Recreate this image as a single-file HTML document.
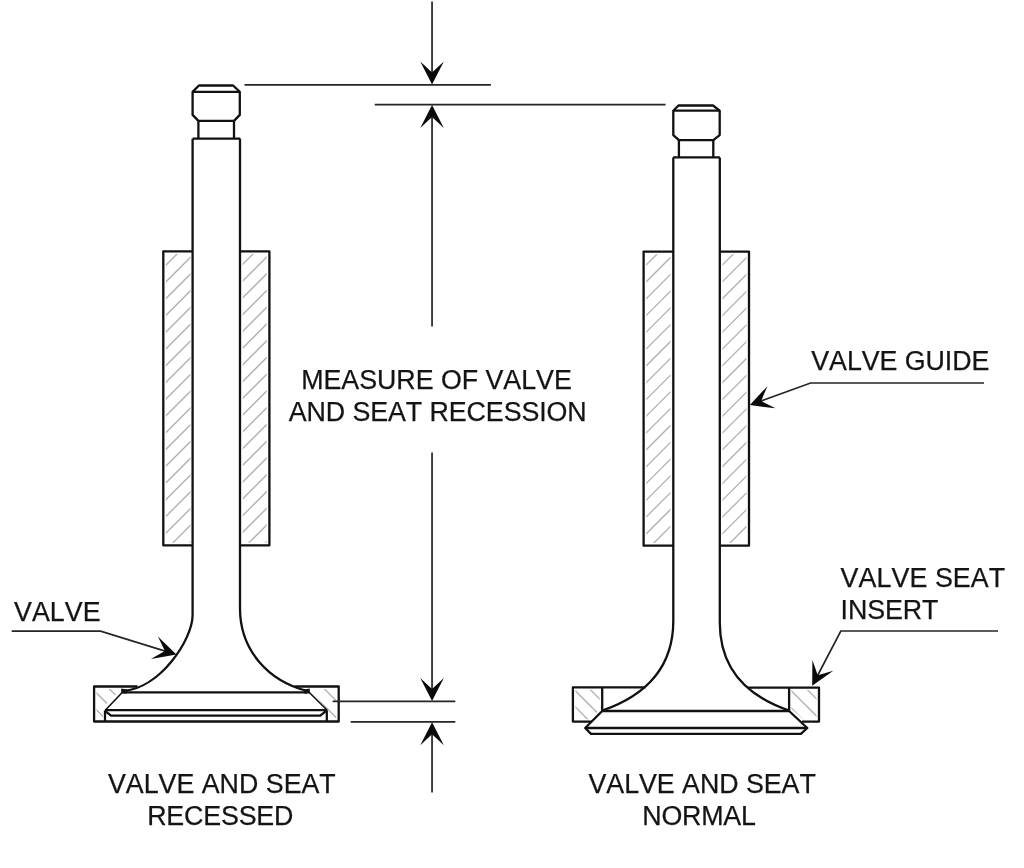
<!DOCTYPE html>
<html><head><meta charset="utf-8"><style>html,body{margin:0;padding:0;background:#fff;overflow:hidden}svg{display:block}</style></head><body>
<svg width="1024" height="868" viewBox="0 0 1024 868">
<rect width="1024" height="868" fill="#fff"/>
<defs></defs>
<clipPath id="h1"><rect x="165.90" y="254.00" width="24.50" height="288.70"/></clipPath>
<g clip-path="url(#h1)" stroke="#b0b0b0" stroke-width="1.30"><line x1="-133.45" y1="547.70" x2="165.25" y2="249.00"/><line x1="-116.70" y1="547.70" x2="182.00" y2="249.00"/><line x1="-99.95" y1="547.70" x2="198.75" y2="249.00"/><line x1="-83.20" y1="547.70" x2="215.50" y2="249.00"/><line x1="-66.45" y1="547.70" x2="232.25" y2="249.00"/><line x1="-49.70" y1="547.70" x2="249.00" y2="249.00"/><line x1="-32.95" y1="547.70" x2="265.75" y2="249.00"/><line x1="-16.20" y1="547.70" x2="282.50" y2="249.00"/><line x1="0.55" y1="547.70" x2="299.25" y2="249.00"/><line x1="17.30" y1="547.70" x2="316.00" y2="249.00"/><line x1="34.05" y1="547.70" x2="332.75" y2="249.00"/><line x1="50.80" y1="547.70" x2="349.50" y2="249.00"/><line x1="67.55" y1="547.70" x2="366.25" y2="249.00"/><line x1="84.30" y1="547.70" x2="383.00" y2="249.00"/><line x1="101.05" y1="547.70" x2="399.75" y2="249.00"/><line x1="117.80" y1="547.70" x2="416.50" y2="249.00"/><line x1="134.55" y1="547.70" x2="433.25" y2="249.00"/><line x1="151.30" y1="547.70" x2="450.00" y2="249.00"/><line x1="168.05" y1="547.70" x2="466.75" y2="249.00"/><line x1="184.80" y1="547.70" x2="483.50" y2="249.00"/></g>
<clipPath id="h2"><rect x="242.80" y="254.00" width="23.90" height="288.70"/></clipPath>
<g clip-path="url(#h2)" stroke="#b0b0b0" stroke-width="1.30"><line x1="-57.45" y1="547.70" x2="241.25" y2="249.00"/><line x1="-40.70" y1="547.70" x2="258.00" y2="249.00"/><line x1="-23.95" y1="547.70" x2="274.75" y2="249.00"/><line x1="-7.20" y1="547.70" x2="291.50" y2="249.00"/><line x1="9.55" y1="547.70" x2="308.25" y2="249.00"/><line x1="26.30" y1="547.70" x2="325.00" y2="249.00"/><line x1="43.05" y1="547.70" x2="341.75" y2="249.00"/><line x1="59.80" y1="547.70" x2="358.50" y2="249.00"/><line x1="76.55" y1="547.70" x2="375.25" y2="249.00"/><line x1="93.30" y1="547.70" x2="392.00" y2="249.00"/><line x1="110.05" y1="547.70" x2="408.75" y2="249.00"/><line x1="126.80" y1="547.70" x2="425.50" y2="249.00"/><line x1="143.55" y1="547.70" x2="442.25" y2="249.00"/><line x1="160.30" y1="547.70" x2="459.00" y2="249.00"/><line x1="177.05" y1="547.70" x2="475.75" y2="249.00"/><line x1="193.80" y1="547.70" x2="492.50" y2="249.00"/><line x1="210.55" y1="547.70" x2="509.25" y2="249.00"/><line x1="227.30" y1="547.70" x2="526.00" y2="249.00"/><line x1="244.05" y1="547.70" x2="542.75" y2="249.00"/><line x1="260.80" y1="547.70" x2="559.50" y2="249.00"/></g>
<clipPath id="h3"><rect x="646.20" y="254.20" width="24.30" height="288.90"/></clipPath>
<g clip-path="url(#h3)" stroke="#b0b0b0" stroke-width="1.30"><line x1="346.30" y1="548.10" x2="645.20" y2="249.20"/><line x1="363.10" y1="548.10" x2="662.00" y2="249.20"/><line x1="379.90" y1="548.10" x2="678.80" y2="249.20"/><line x1="396.70" y1="548.10" x2="695.60" y2="249.20"/><line x1="413.50" y1="548.10" x2="712.40" y2="249.20"/><line x1="430.30" y1="548.10" x2="729.20" y2="249.20"/><line x1="447.10" y1="548.10" x2="746.00" y2="249.20"/><line x1="463.90" y1="548.10" x2="762.80" y2="249.20"/><line x1="480.70" y1="548.10" x2="779.60" y2="249.20"/><line x1="497.50" y1="548.10" x2="796.40" y2="249.20"/><line x1="514.30" y1="548.10" x2="813.20" y2="249.20"/><line x1="531.10" y1="548.10" x2="830.00" y2="249.20"/><line x1="547.90" y1="548.10" x2="846.80" y2="249.20"/><line x1="564.70" y1="548.10" x2="863.60" y2="249.20"/><line x1="581.50" y1="548.10" x2="880.40" y2="249.20"/><line x1="598.30" y1="548.10" x2="897.20" y2="249.20"/><line x1="615.10" y1="548.10" x2="914.00" y2="249.20"/><line x1="631.90" y1="548.10" x2="930.80" y2="249.20"/><line x1="648.70" y1="548.10" x2="947.60" y2="249.20"/><line x1="665.50" y1="548.10" x2="964.40" y2="249.20"/></g>
<clipPath id="h4"><rect x="722.40" y="254.20" width="24.00" height="288.90"/></clipPath>
<g clip-path="url(#h4)" stroke="#b0b0b0" stroke-width="1.30"><line x1="422.50" y1="548.10" x2="721.40" y2="249.20"/><line x1="439.30" y1="548.10" x2="738.20" y2="249.20"/><line x1="456.10" y1="548.10" x2="755.00" y2="249.20"/><line x1="472.90" y1="548.10" x2="771.80" y2="249.20"/><line x1="489.70" y1="548.10" x2="788.60" y2="249.20"/><line x1="506.50" y1="548.10" x2="805.40" y2="249.20"/><line x1="523.30" y1="548.10" x2="822.20" y2="249.20"/><line x1="540.10" y1="548.10" x2="839.00" y2="249.20"/><line x1="556.90" y1="548.10" x2="855.80" y2="249.20"/><line x1="573.70" y1="548.10" x2="872.60" y2="249.20"/><line x1="590.50" y1="548.10" x2="889.40" y2="249.20"/><line x1="607.30" y1="548.10" x2="906.20" y2="249.20"/><line x1="624.10" y1="548.10" x2="923.00" y2="249.20"/><line x1="640.90" y1="548.10" x2="939.80" y2="249.20"/><line x1="657.70" y1="548.10" x2="956.60" y2="249.20"/><line x1="674.50" y1="548.10" x2="973.40" y2="249.20"/><line x1="691.30" y1="548.10" x2="990.20" y2="249.20"/><line x1="708.10" y1="548.10" x2="1007.00" y2="249.20"/><line x1="724.90" y1="548.10" x2="1023.80" y2="249.20"/></g>
<clipPath id="s1"><path d="M96.5 689 L121 689 L103 708 L103 719 L96.5 719 Z"/></clipPath>
<g clip-path="url(#s1)" stroke="#b0b0b0" stroke-width="1.30"><line x1="89.00" y1="634.50" x2="129.00" y2="674.50"/><line x1="89.00" y1="651.50" x2="129.00" y2="691.50"/><line x1="89.00" y1="668.50" x2="129.00" y2="708.50"/><line x1="89.00" y1="685.50" x2="129.00" y2="725.50"/><line x1="89.00" y1="702.50" x2="129.00" y2="742.50"/></g>
<clipPath id="s2"><path d="M336.3 689 L310 689 L325 707 L325 719 L336.3 719 Z"/></clipPath>
<g clip-path="url(#s2)" stroke="#b0b0b0" stroke-width="1.30"><line x1="302.00" y1="632.50" x2="344.00" y2="674.50"/><line x1="302.00" y1="649.50" x2="344.00" y2="691.50"/><line x1="302.00" y1="666.50" x2="344.00" y2="708.50"/><line x1="302.00" y1="683.50" x2="344.00" y2="725.50"/><line x1="302.00" y1="700.50" x2="344.00" y2="742.50"/></g>
<clipPath id="s3"><path d="M575.5 689.7 L599.8 689.7 L599.8 710 L589.5 719.3 L575.5 719.3 Z"/></clipPath>
<g clip-path="url(#s3)" stroke="#b0b0b0" stroke-width="1.30"><line x1="567.00" y1="650.10" x2="608.00" y2="691.10"/><line x1="567.00" y1="666.30" x2="608.00" y2="707.30"/><line x1="567.00" y1="682.50" x2="608.00" y2="723.50"/><line x1="567.00" y1="698.70" x2="608.00" y2="739.70"/><line x1="567.00" y1="714.90" x2="608.00" y2="755.90"/></g>
<clipPath id="s4"><path d="M791.5 690 L816.5 690 L816.5 719.3 L803.5 719.3 L791.5 709 Z"/></clipPath>
<g clip-path="url(#s4)" stroke="#b0b0b0" stroke-width="1.30"><line x1="784.00" y1="649.10" x2="824.00" y2="689.10"/><line x1="784.00" y1="666.30" x2="824.00" y2="706.30"/><line x1="784.00" y1="683.50" x2="824.00" y2="723.50"/><line x1="784.00" y1="700.70" x2="824.00" y2="740.70"/></g>
<g fill="none" stroke="#111111" stroke-width="2.3" stroke-linejoin="round" stroke-linecap="butt">
<path d="M198.90 85.50 L233.10 85.50 L239.80 91.90 L239.80 114.90 L234.00 120.90 L198.40 120.90 L192.60 114.90 L192.60 91.90 Z"/>
<path d="M192.60 91.90 L239.80 91.90"/>
<path d="M198.40 120.90 L198.40 138.70 M234.00 120.90 L234.00 138.70 M192.60 138.70 L240.30 138.70"/>
<path d="M192.6 138.7 L192.60 615.01 C192.60 639.68 160.02 688.11 123.40 691.00"/>
<path d="M240.0 138.7 L240.00 608.26 C240.00 650.89 268.80 681.25 307.40 691.00"/>
<path d="M192.6 251.4 L163.3 251.4 L163.3 545.3 L192.6 545.3"/>
<path d="M240.0 251.4 L269.4 251.4 L269.4 545.3 L240.0 545.3"/>
<path d="M137.5 686.5 L94.1 686.5 L94.1 721.5 L338.7 721.5 L338.7 686.5 L294.5 686.5"/>
<path d="M105 721.5 L105 710.5" /><path d="M326.8 721.5 L326.8 710.3"/>
<path d="M123.4 692.3 L307.4 692.3"/>
<path d="M105 710.2 L326.8 710.2"/>
<path d="M105 710.8 L111 715.7 L320.3 715.7 L326.8 710.4"/>
</g>
<path d="M123.4 691.2 L105 710.5 M308.6 691.8 L327.2 710.3" fill="none" stroke="#111111" stroke-width="1.6"/>
<path d="M121.2 688.6 L127 689.6 L127 693.4 L121.2 693.4 Z M309.8 688.6 L304 689.6 L304 693.4 L309.8 693.4 Z" fill="#111111"/>
<g fill="none" stroke="#111111" stroke-width="2.3" stroke-linejoin="round">
<path d="M678.50 105.50 L713.00 105.50 L719.70 110.70 L719.70 135.10 L713.30 140.10 L678.90 140.10 L673.30 135.10 L673.30 110.70 Z"/>
<path d="M673.30 110.70 L719.70 110.70"/>
<path d="M678.90 140.10 L678.90 157.40 M713.30 140.10 L713.30 157.40 M673.10 157.40 L719.90 157.40"/>
<path d="M673.3 157.4 L673.30 620.74 C673.30 661.52 652.56 693.18 602.20 710.60"/>
<path d="M719.8 157.4 L719.80 622.72 C719.80 664.37 741.94 694.41 789.10 710.60"/>
<path d="M673.3 251.6 L643.6 251.6 L643.6 545.7 L673.3 545.7"/>
<path d="M719.8 251.6 L749.0 251.6 L749.0 545.7 L719.8 545.7"/>
<path d="M645.5 687.3 L572.9 687.3 L572.9 721.6 L591.6 721.6"/>
<path d="M602.2 687.3 L602.2 711"/>
<path d="M748.1 687.6 L819 687.6 L819 721.6 L802 721.6"/>
<path d="M789.1 687.6 L789.1 711"/>
<path d="M602.2 711 L789.1 711 L807.3 728 L800.9 733.9 L591 733.9 L585.2 728 Z"/>
<path d="M585.2 728 L807.3 728"/>
</g>
<g fill="none" stroke="#252525" stroke-width="1.7">
<path d="M432.05 1.6 L432.05 80 M432.05 110 L432.05 326.6 M432.05 452.5 L432.05 696 M432.05 726 L432.05 792.6"/>
<path d="M244.5 84.8 L490.9 84.8 M374.7 104.7 L665.6 104.7 M332.6 701.4 L455.3 701.4 M350.7 721.8 L455.3 721.8"/>
<path d="M11.7 631.2 L100.6 631.2 L170 652.6"/>
<path d="M984 383.0 L810.6 383.0 L756 402.9"/>
<path d="M998 631 L840.8 631 L815 680.5"/>
</g>
<path d="M432.05 84.40 L420.25 61.40 L432.05 72.40 L443.85 61.40 Z" fill="#0a0a0a"/>
<path d="M432.05 105.00 L443.85 128.00 L432.05 117.00 L420.25 128.00 Z" fill="#0a0a0a"/>
<path d="M432.05 701.00 L420.25 678.00 L432.05 689.00 L443.85 678.00 Z" fill="#0a0a0a"/>
<path d="M432.05 722.20 L443.85 745.20 L432.05 734.20 L420.25 745.20 Z" fill="#0a0a0a"/>
<path d="M176.40 654.60 L150.94 659.09 L164.93 651.06 L157.90 636.54 Z" fill="#0a0a0a"/>
<path d="M749.80 405.10 L767.39 386.15 L761.08 401.00 L775.45 408.33 Z" fill="#0a0a0a"/>
<path d="M812.20 685.80 L812.38 659.95 L817.75 675.16 L833.30 670.87 Z" fill="#0a0a0a"/>
<g font-family="Liberation Sans, sans-serif" font-size="26.8" fill="#141414" stroke="#141414" stroke-width="0.25" style="font-kerning:none;will-change:transform">
<text x="301.20" y="389.20" letter-spacing="-0.027">MEASURE OF VALVE</text>
<text x="288.80" y="421.10" letter-spacing="-0.082">AND SEAT RECESSION</text>
<text x="811.30" y="370.00" letter-spacing="-0.060">VALVE GUIDE</text>
<text x="840.50" y="587.40" letter-spacing="0.089">VALVE SEAT</text>
<text x="840.60" y="618.80" letter-spacing="-0.080">INSERT</text>
<text x="14.00" y="621.20" letter-spacing="0.050">VALVE</text>
<text x="107.90" y="792.80" letter-spacing="0.000">VALVE AND SEAT</text>
<text x="147.20" y="824.90" letter-spacing="-0.171">RECESSED</text>
<text x="588.50" y="792.80" letter-spacing="-0.046">VALVE AND SEAT</text>
<text x="642.30" y="824.90" letter-spacing="-0.200">NORMAL</text>
</g>
</svg>
</body></html>
